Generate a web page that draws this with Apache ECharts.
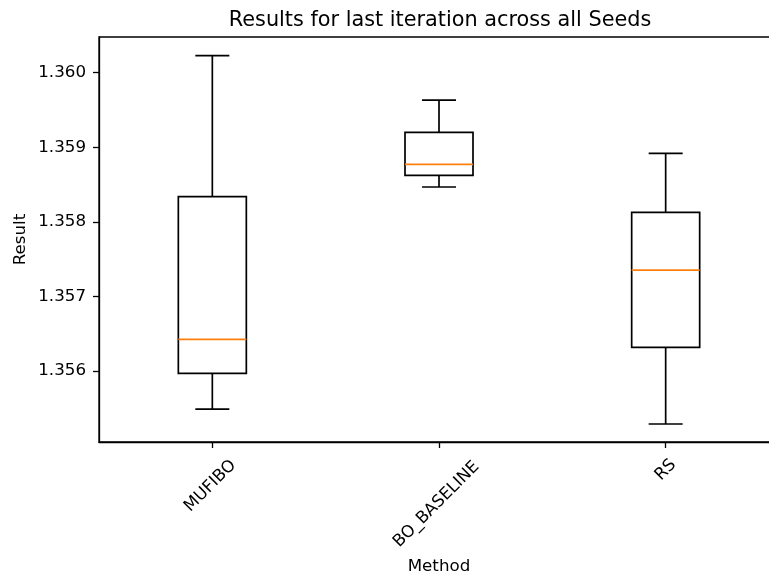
<!DOCTYPE html>
<html><head><meta charset="utf-8">
<script src="https://cdn.jsdelivr.net/npm/echarts@6/dist/echarts.min.js"></script>
<style>html,body{margin:0;padding:0;background:#fff}#c{width:769px;height:576px}</style>
</head><body><div id="c"></div>
<script>
const categories = ['MUFIBO', 'BO_BASELINE', 'RS'];
const whiskerLow  = [1.355492, 1.358468, 1.355291];
const q1          = [1.355970, 1.358625, 1.356319];
const median      = [1.356426, 1.358772, 1.357355];
const q3          = [1.358338, 1.359201, 1.358129];
const whiskerHigh = [1.360228, 1.359634, 1.358920];
const yTicks = [1.356, 1.357, 1.358, 1.359, 1.360];
const titleText = 'Results for last iteration across all Seeds';
const xName = 'Method';
const yName = 'Result';

const FONT = 'DejaVu Sans';
const FS = 16.7;
const BASE_MARGIN = 28;
// screen shift of each rotated label centre (mimics matplotlib's centred rotated labels)
const labelShift = [[-2, 16], [-2.5, 34.5], [0, 0]];

const chart = echarts.init(document.getElementById('c'), null, {renderer: 'canvas'});
const boxData = categories.map((c, i) => [i, whiskerLow[i], q1[i], median[i], q3[i], whiskerHigh[i]]);

// one x axis per label, so each rotated label can be placed on its own
const xAxes = categories.map((c, i) => {
  const dx = labelShift[i][0], dy = labelShift[i][1];
  const alpha = 1.4142 * dx;             // shift along text direction
  const pad = alpha >= 0 ? [0, 0, 0, 2 * alpha] : [0, -2 * alpha, 0, 0];
  return {
    type: 'category', gridIndex: 0, position: 'bottom', offset: 0,
    data: categories, boundaryGap: true,
    name: i === 0 ? xName : '', nameLocation: 'middle', nameGap: 116, nameMoveOverlap: false,
    nameTextStyle: {fontFamily: FONT, fontSize: FS, color: '#000'},
    axisLine: {show: i === 0, lineStyle: {color: '#000', width: 1.3}},
    axisTick: {show: i === 0, alignWithLabel: true, length: 6, lineStyle: {color: '#000', width: 1.3}},
    axisLabel: {
      rotate: 45, align: 'center', verticalAlign: 'middle', margin: BASE_MARGIN + dy + dx,
      padding: pad, interval: 0, hideOverlap: false,
      formatter: (v, idx) => (idx === i ? v : ''),
      fontFamily: FONT, fontSize: FS, color: '#000'
    },
    splitLine: {show: false}
  };
});

chart.setOption({
  backgroundColor: '#fff',
  animation: false,
  title: {
    text: titleText, left: 435, top: 5, textAlign: 'center',
    textStyle: {fontFamily: FONT, fontSize: 20.8, fontWeight: 'normal', color: '#000'}
  },
  grid: {left: 99, top: 37, width: 680, height: 405, show: true, borderColor: '#000', borderWidth: 1.3,
         containLabel: false, outerBoundsMode: 'none'},
  xAxis: xAxes,
  yAxis: {
    type: 'value', min: 1.355050, max: 1.360479,
    name: yName, nameLocation: 'middle', nameGap: 70, nameMoveOverlap: false,
    nameTextStyle: {fontFamily: FONT, fontSize: FS, color: '#000'},
    axisLine: {show: true, lineStyle: {color: '#000', width: 1.3}},
    axisTick: {show: true, length: 6, customValues: yTicks, lineStyle: {color: '#000', width: 1.3}},
    axisLabel: {customValues: yTicks, formatter: v => Number(v).toFixed(3), margin: 13,
                fontFamily: FONT, fontSize: FS, color: '#000'},
    splitLine: {show: false}
  },
  series: [{
    type: 'custom',
    xAxisIndex: 0, yAxisIndex: 0,
    data: boxData,
    encode: {x: 0, y: [1, 2, 3, 4, 5]},
    renderItem: function (params, api) {
      const xi = api.value(0);
      const band = api.size([1, 0])[0];
      const boxW = band * 0.3, capW = band * 0.15;
      const cx = api.coord([xi, api.value(3)])[0];
      const Y = k => api.coord([xi, api.value(k)])[1];
      const yLo = Y(1), yQ1 = Y(2), yMed = Y(3), yQ3 = Y(4), yHi = Y(5);
      const black = {stroke: '#000', lineWidth: 1.7, fill: null};
      return {
        type: 'group',
        children: [
          {type: 'rect', shape: {x: cx - boxW / 2, y: yQ3, width: boxW, height: yQ1 - yQ3}, style: black},
          {type: 'line', shape: {x1: cx, y1: yQ1, x2: cx, y2: yLo}, style: black},
          {type: 'line', shape: {x1: cx, y1: yQ3, x2: cx, y2: yHi}, style: black},
          {type: 'line', shape: {x1: cx - capW / 2, y1: yLo, x2: cx + capW / 2, y2: yLo}, style: black},
          {type: 'line', shape: {x1: cx - capW / 2, y1: yHi, x2: cx + capW / 2, y2: yHi}, style: black},
          {type: 'line', shape: {x1: cx - boxW / 2, y1: yMed, x2: cx + boxW / 2, y2: yMed},
           style: {stroke: '#ff7f0e', lineWidth: 1.7}}
        ]
      };
    }
  }]
});
</script>
</body></html>
